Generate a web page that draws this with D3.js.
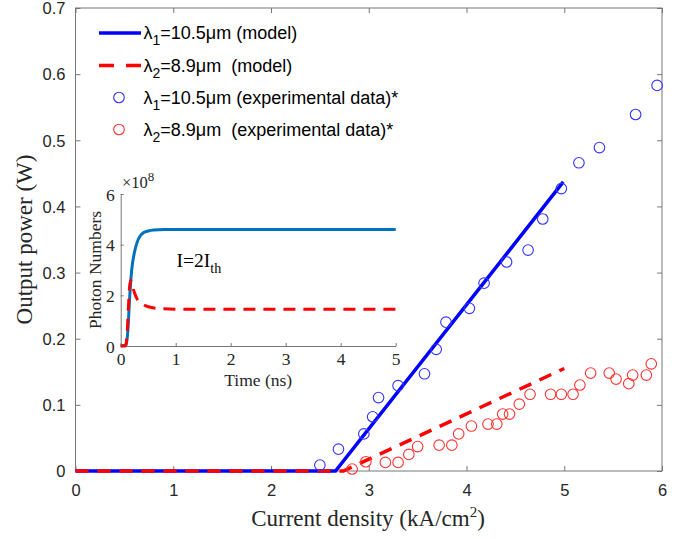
<!DOCTYPE html>
<html><head><meta charset="utf-8">
<script src="https://cdn.jsdelivr.net/npm/d3@7"></script>
<style>body{margin:0;background:#fff}svg{display:block}text{white-space:pre}</style>
</head><body><svg id="c" width="692" height="539"></svg>
<script>
// ---- data ----
const xTicks = [0,1,2,3,4,5,6];
const yTicks = [0,0.1,0.2,0.3,0.4,0.5,0.6,0.7];
const modelBlueX = [0, 2.66, 4.99];
const modelBlueY = [0, 0, 0.437];
const modelRedX = [0, 2.74, 5.0];
const modelRedY = [0, 0, 0.155];
const expBlueX = [2.50,2.69,2.95,3.04,3.10,3.30,3.57,3.69,3.79,4.03,4.18,4.41,4.63,4.78,4.97,5.15,5.36,5.73,5.95];
const expBlueY = [0.009,0.033,0.056,0.082,0.111,0.129,0.147,0.184,0.225,0.246,0.284,0.316,0.334,0.381,0.427,0.466,0.489,0.539,0.583];
const expRedX = [2.83,2.97,3.17,3.30,3.41,3.50,3.72,3.85,3.92,4.05,4.22,4.31,4.37,4.44,4.54,4.65,4.86,4.97,5.09,5.16,5.27,5.46,5.53,5.66,5.70,5.84,5.89];
const expRedY = [0.003,0.014,0.013,0.013,0.025,0.037,0.039,0.039,0.056,0.068,0.071,0.071,0.086,0.086,0.101,0.116,0.116,0.116,0.116,0.130,0.148,0.148,0.139,0.132,0.145,0.145,0.162];
// inset (photon numbers, x1e8) vs time (ns)
const insetXTicks = [0,1,2,3,4,5];
const insetYTicks = [0,2,4,6];
const insetBlueT = [0,0.10,0.13,0.16,0.20,0.25,0.30,0.35,0.40,0.50,0.60,0.80,1.0,5.0];
const insetBlueN = [0,0.05,0.6,1.8,3.0,3.7,4.1,4.33,4.45,4.54,4.58,4.6,4.6,4.6];
const insetRedT = [0,0.08,0.10,0.12,0.14,0.16,0.18,0.20,0.25,0.30,0.40,0.50,0.70,1.0,5.0];
const insetRedN = [0,0,0.1,0.6,1.5,2.3,2.6,2.5,2.1,1.85,1.65,1.55,1.48,1.45,1.45];

const svg = d3.select("#c");
const M = {l:75.5, r:662, t:8, b:471};
const x = d3.scaleLinear().domain([0,6]).range([M.l, M.r]);
const y = d3.scaleLinear().domain([0,0.7]).range([M.b, M.t]);
const axCol = "#262626";
const lineCol = "#777";
const sans = "Liberation Sans, Arial, sans-serif";
const serif = "Liberation Serif, Times New Roman, serif";

// main axes frame
svg.append("rect").attr("x",M.l).attr("y",M.t).attr("width",M.r-M.l).attr("height",M.b-M.t)
  .attr("fill","none").attr("stroke",lineCol).attr("stroke-width",1);

const gx = svg.append("g").attr("transform",`translate(0,${M.b})`)
  .call(d3.axisBottom(x).tickValues(xTicks).tickFormat(d3.format("d")).tickSizeInner(-5).tickSizeOuter(0).tickPadding(13));
const gy = svg.append("g").attr("transform",`translate(${M.l},0)`)
  .call(d3.axisLeft(y).tickValues(yTicks).tickFormat(d=>d===0?"0":d3.format(".1f")(d)).tickSizeInner(-5).tickSizeOuter(0).tickPadding(10));
const gx2 = svg.append("g").attr("transform",`translate(0,${M.t})`)
  .call(d3.axisTop(x).tickValues(xTicks).tickFormat("").tickSizeInner(-5).tickSizeOuter(0));
const gy2 = svg.append("g").attr("transform",`translate(${M.r},0)`)
  .call(d3.axisRight(y).tickValues(yTicks).tickFormat("").tickSizeInner(-5).tickSizeOuter(0));
[gx,gy,gx2,gy2].forEach(g=>{
  g.select(".domain").remove();
  g.selectAll(".tick line").attr("stroke",lineCol);
  g.selectAll("text").attr("fill",axCol).style("font-family",sans).style("font-size","16.5px");
});
gy.selectAll("text").attr("dy","0.35em");

// axis labels
svg.append("text").attr("x",368).attr("y",526).attr("text-anchor","middle")
  .style("font-family",serif).style("font-size","23px").attr("fill",axCol)
  .html('Current density (kA/cm<tspan dy="-9" font-size="15px">2</tspan><tspan dy="9">)</tspan>');
svg.append("text").attr("transform",`translate(32,${(M.t+M.b)/2}) rotate(-90)`).attr("text-anchor","middle")
  .style("font-family",serif).style("font-size","23px").attr("fill",axCol)
  .text("Output power (W)");

// model lines
const line = d3.line().x(d=>x(d[0])).y(d=>y(d[1]));
const blueModel = modelBlueX.map((v,i)=>[v,modelBlueY[i]]);
const redModel = modelRedX.map((v,i)=>[v,modelRedY[i]]);
svg.append("path").datum(blueModel).attr("d",line).attr("fill","none").attr("stroke","#0000ff").attr("stroke-width",3.5);
svg.append("path").datum(redModel).attr("d",line).attr("fill","none").attr("stroke","#ff0000").attr("stroke-width",3.5).attr("stroke-dasharray","13,9");

// experimental points
svg.append("g").selectAll("circle").data(expBlueX.map((v,i)=>[v,expBlueY[i]])).join("circle")
  .attr("cx",d=>x(d[0])).attr("cy",d=>y(d[1])).attr("r",5.3).attr("fill","none").attr("stroke","#3333ff").attr("stroke-width",1.1);
svg.append("g").selectAll("circle").data(expRedX.map((v,i)=>[v,expRedY[i]])).join("circle")
  .attr("cx",d=>x(d[0])).attr("cy",d=>y(d[1])).attr("r",5.3).attr("fill","none").attr("stroke","#ff3333").attr("stroke-width",1.1);

// legend
const lg = svg.append("g").style("font-family",sans).style("font-size","18px").attr("fill","#000");
const legItems = [
  {y:33, type:"line", col:"#0000ff", sub:"1", txt:"=10.5", tail:"m (model)"},
  {y:65.5, type:"dash", col:"#ff0000", sub:"2", txt:"=8.9", tail:"m  (model)"},
  {y:97.5, type:"circ", col:"#3333ff", sub:"1", txt:"=10.5", tail:"m (experimental data)*"},
  {y:129.5, type:"circ", col:"#ff3333", sub:"2", txt:"=8.9", tail:"m  (experimental data)*"}
];
legItems.forEach(it=>{
  if(it.type==="line") lg.append("line").attr("x1",99).attr("x2",141).attr("y1",it.y).attr("y2",it.y).attr("stroke",it.col).attr("stroke-width",3.5);
  if(it.type==="dash") lg.append("line").attr("x1",99).attr("x2",141).attr("y1",it.y).attr("y2",it.y).attr("stroke",it.col).attr("stroke-width",3.5).attr("stroke-dasharray","15,12");
  if(it.type==="circ") lg.append("circle").attr("cx",119).attr("cy",it.y).attr("r",5.3).attr("fill","none").attr("stroke",it.col).attr("stroke-width",1.1);
  lg.append("text").attr("x",143.5).attr("y",it.y+6)
    .html(`λ<tspan dy="6" font-size="14px">${it.sub}</tspan><tspan dy="-6">${it.txt}μ${it.tail}</tspan>`);
});

// ---- inset ----
const I = {l:120.7, r:395.7, t:194, b:346};
const ix = d3.scaleLinear().domain([0,5]).range([I.l, I.r]);
const iy = d3.scaleLinear().domain([0,6]).range([I.b, I.t]);
const igx = svg.append("g").attr("transform",`translate(0,${I.b})`)
  .call(d3.axisBottom(ix).tickValues(insetXTicks).tickFormat(d3.format("d")).tickSizeInner(-3).tickSizeOuter(0).tickPadding(7));
const igy = svg.append("g").attr("transform",`translate(${I.l},0)`)
  .call(d3.axisLeft(iy).tickValues(insetYTicks).tickFormat(d3.format("d")).tickSizeInner(-3).tickSizeOuter(0).tickPadding(6));
[igx,igy].forEach(g=>{
  g.select(".domain").attr("stroke",lineCol);
  g.selectAll(".tick line").attr("stroke",lineCol);
  g.selectAll("text").attr("fill",axCol).style("font-family",serif).style("font-size","17.5px");
});
igy.selectAll("text").attr("dy","0.35em");

const iline = d3.line().curve(d3.curveMonotoneX).x(d=>ix(d[0])).y(d=>iy(d[1]));
svg.append("path").datum(insetBlueT.map((v,i)=>[v,insetBlueN[i]])).attr("d",iline)
  .attr("fill","none").attr("stroke","#0072bd").attr("stroke-width",3);
svg.append("path").datum(insetRedT.map((v,i)=>[v,insetRedN[i]])).attr("d",iline)
  .attr("fill","none").attr("stroke","#ff0000").attr("stroke-width",3).attr("stroke-dasharray","12,8");

svg.append("text").attr("x",(I.l+I.r)/2).attr("y",386).attr("text-anchor","middle")
  .style("font-family",serif).style("font-size","17.5px").attr("fill",axCol).text("Time (ns)");
svg.append("text").attr("transform",`translate(101,${(I.t+I.b)/2}) rotate(-90)`).attr("text-anchor","middle")
  .style("font-family",serif).style("font-size","17.5px").attr("fill",axCol).text("Photon Numbers");
svg.append("text").attr("x",122).attr("y",188)
  .style("font-family",serif).style("font-size","16.5px").attr("fill",axCol)
  .html('×10<tspan dy="-7" font-size="13px">8</tspan>');
svg.append("text").attr("x",176.5).attr("y",267)
  .style("font-family",serif).style("font-size","19.5px").attr("fill","#000")
  .html('I=2I<tspan dy="6" font-size="14px">th</tspan>');
</script></body></html>
